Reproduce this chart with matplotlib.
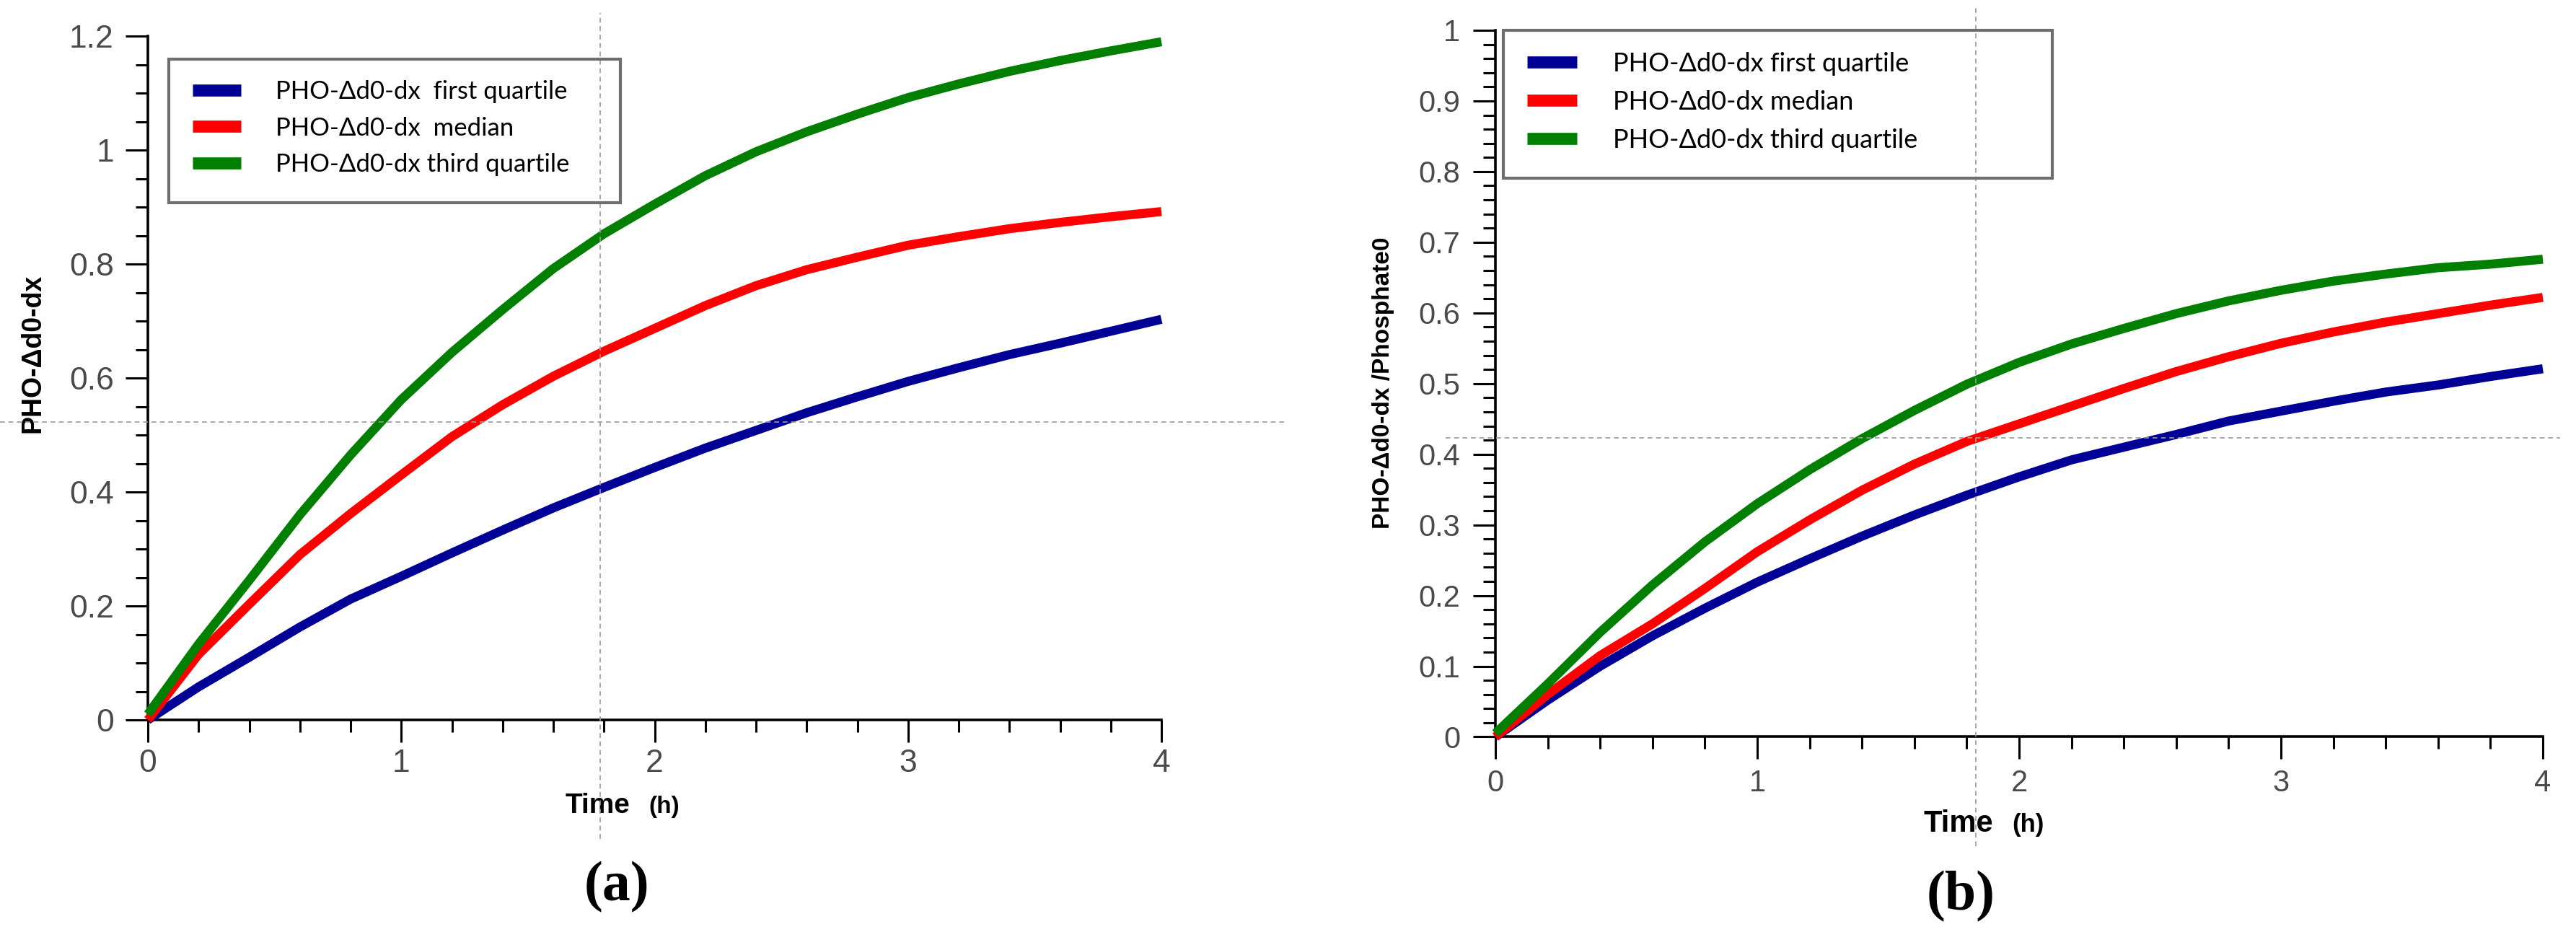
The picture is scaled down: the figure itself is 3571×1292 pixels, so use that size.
import numpy as np
import matplotlib
matplotlib.use("Agg")
import matplotlib.pyplot as plt
from matplotlib.patches import Rectangle
from matplotlib.ticker import MultipleLocator, FuncFormatter

# time points (h)
time_h = [0, 0.2, 0.4, 0.6, 0.8, 1.0, 1.2, 1.4, 1.6, 1.8, 2.0,
          2.2, 2.4, 2.6, 2.8, 3.0, 3.2, 3.4, 3.6, 3.8, 4.0]

# panel (a): PHO-Δd0-dx
a_first = [0, 0.058, 0.11, 0.163, 0.212, 0.252, 0.293, 0.333, 0.372, 0.408, 0.443,
           0.477, 0.508, 0.539, 0.567, 0.594, 0.618, 0.641, 0.661, 0.682, 0.703]
a_median = [0, 0.115, 0.203, 0.29, 0.362, 0.43, 0.497, 0.553, 0.603, 0.647, 0.687,
            0.727, 0.762, 0.79, 0.812, 0.833, 0.848, 0.862, 0.873, 0.883, 0.892]
a_third = [0.01, 0.133, 0.245, 0.36, 0.465, 0.562, 0.645, 0.72, 0.792, 0.853, 0.905,
           0.955, 0.997, 1.032, 1.063, 1.092, 1.116, 1.138, 1.157, 1.174, 1.19]

# panel (b): PHO-Δd0-dx / Phosphate0
b_first = [0, 0.052, 0.1, 0.143, 0.182, 0.219, 0.252, 0.284, 0.314, 0.342, 0.368,
           0.392, 0.41, 0.428, 0.447, 0.461, 0.475, 0.488, 0.498, 0.51, 0.521]
b_median = [0, 0.06, 0.115, 0.16, 0.21, 0.262, 0.307, 0.349, 0.386, 0.418, 0.443,
            0.468, 0.493, 0.517, 0.538, 0.557, 0.573, 0.587, 0.599, 0.611, 0.622]
b_third = [0.005, 0.075, 0.148, 0.215, 0.276, 0.33, 0.378, 0.422, 0.462, 0.499, 0.53,
           0.556, 0.578, 0.599, 0.617, 0.632, 0.645, 0.655, 0.664, 0.669, 0.676]

labels_a = ["PHO-Δd0-dx  first quartile", "PHO-Δd0-dx  median", "PHO-Δd0-dx third quartile"]
labels_b = ["PHO-Δd0-dx first quartile", "PHO-Δd0-dx median", "PHO-Δd0-dx third quartile"]
colors = ["#000096", "#ff0000", "#007f00"]

# cursor crosshair left in the screenshots (data units)
cursor_a = (1.785, 0.523)
cursor_b = (1.835, 0.423)

SANS = ["Liberation Sans", "DejaVu Sans"]
LEG_FONT = ["Lato", "DejaVu Sans"]
TICK_GRAY = "#4a4a4a"

fig = plt.figure(figsize=(35.71, 12.92), dpi=100)
ax_a = fig.add_axes([0.05741, 0.22755, 0.39345, 0.73375])
ax_b = fig.add_axes([0.58051, 0.20937, 0.40661, 0.75813])


def style_axis(ax, ymax, ymajor, yminor, tick_fs, xpad, ypad):
    ax.set_xlim(0, 4)
    ax.set_ylim(0, ymax)
    ax.xaxis.set_major_locator(MultipleLocator(1))
    ax.xaxis.set_minor_locator(MultipleLocator(0.2))
    ax.yaxis.set_major_locator(MultipleLocator(ymajor))
    ax.yaxis.set_minor_locator(MultipleLocator(yminor))
    fmt = FuncFormatter(lambda v, p: "%g" % round(v, 2))
    ax.xaxis.set_major_formatter(fmt)
    ax.yaxis.set_major_formatter(fmt)
    for s in ["top", "right"]:
        ax.spines[s].set_visible(False)
    for s in ["left", "bottom"]:
        ax.spines[s].set_linewidth(2.6)
    ax.tick_params(which="major", direction="out", length=22, width=2.2, color="black")
    ax.tick_params(which="minor", direction="out", length=12.5, width=2.2, color="black")
    ax.tick_params(axis="x", which="major", pad=xpad)
    ax.tick_params(axis="y", which="major", pad=ypad)
    for lab in ax.get_xticklabels() + ax.get_yticklabels():
        lab.set_fontfamily(SANS)
        lab.set_fontsize(tick_fs)
        lab.set_color(TICK_GRAY)


def draw_lines(ax, series, labels):
    for vals, lab, c in zip(series, labels, colors):
        ax.plot(time_h, vals, color=c, lw=9, label=lab, clip_on=False,
                solid_capstyle="butt", solid_joinstyle="round", zorder=3)


# ---------- panel (a)
draw_lines(ax_a, [a_first, a_median, a_third], labels_a)
style_axis(ax_a, 1.2, 0.2, 0.05, 32, 7, 12)
ax_a.set_ylabel("PHO-Δd0-dx", fontsize=27, fontweight="bold", family=SANS, va="center")
ax_a.yaxis.set_label_coords(-0.1135, 0.536)
ax_a.text(0.444, -0.136, "Time", transform=ax_a.transAxes, ha="center", va="baseline",
          fontsize=28, fontweight="bold", family=SANS)
ax_a.text(0.494, -0.136, "(h)", transform=ax_a.transAxes, ha="left", va="baseline",
          fontsize=24, fontweight="bold", family=SANS)

leg_a = ax_a.legend(loc="upper left", bbox_to_anchor=(0.0748, 0.914),
                    bbox_transform=fig.transFigure, frameon=False, borderpad=0,
                    borderaxespad=0, handlelength=1.93, handletextpad=1.38,
                    labelspacing=0.53, prop={"family": LEG_FONT, "size": 25})
fig.add_artist(Rectangle((0.06553, 0.78251), 0.17530, 0.15402, transform=fig.transFigure,
                         fill=False, edgecolor="#6e6e6e", lw=3))

ax_a.axvline(cursor_a[0], ymin=-0.174, ymax=1.034, clip_on=False, color="#9a9a9a",
             lw=1.2, ls=(0, (4, 3)), zorder=5)
ax_a.axhline(cursor_a[1], xmin=-0.146, xmax=1.123, clip_on=False, color="#9a9a9a",
             lw=1.2, ls=(0, (4, 3)), zorder=5)

# ---------- panel (b)
draw_lines(ax_b, [b_first, b_median, b_third], labels_b)
style_axis(ax_b, 1.0, 0.1, 0.02, 30, 10, 13)
ax_b.set_ylabel("PHO-Δd0-dx /Phosphate0", fontsize=24, fontweight="bold", family=SANS,
                va="center")
ax_b.yaxis.set_label_coords(-0.107, 0.501)
ax_b.text(0.442, -0.134, "Time", transform=ax_b.transAxes, ha="center", va="baseline",
          fontsize=30, fontweight="bold", family=SANS)
ax_b.text(0.493, -0.134, "(h)", transform=ax_b.transAxes, ha="left", va="baseline",
          fontsize=25, fontweight="bold", family=SANS)

leg_b = ax_b.legend(loc="upper left", bbox_to_anchor=(0.5928, 0.9443),
                    bbox_transform=fig.transFigure, frameon=False, borderpad=0,
                    borderaxespad=0, handlelength=1.91, handletextpad=1.385,
                    labelspacing=0.55, prop={"family": LEG_FONT, "size": 26})
fig.add_artist(Rectangle((0.58359, 0.80882), 0.21310, 0.15867, transform=fig.transFigure,
                         fill=False, edgecolor="#6e6e6e", lw=3))

ax_b.axvline(cursor_b[0], ymin=-0.155, ymax=1.036, clip_on=False, color="#9a9a9a",
             lw=1.2, ls=(0, (4, 3)), zorder=5)
ax_b.axhline(cursor_b[1], xmin=-0.0475, xmax=1.0165, clip_on=False, color="#9a9a9a",
             lw=1.2, ls=(0, (4, 3)), zorder=5)

for leg in (leg_a, leg_b):
    for h in leg.get_lines():
        h.set_linewidth(12)
        h.set_solid_capstyle("butt")

# panel tags
fig.text(0.2394, 0.0341, "(a)", ha="center", va="baseline", fontsize=56,
         fontweight="bold", family=["Liberation Serif", "DejaVu Serif"])
fig.text(0.7611, 0.0240, "(b)", ha="center", va="baseline", fontsize=56,
         fontweight="bold", family=["Liberation Serif", "DejaVu Serif"])

fig.savefig("out.png", dpi=100, facecolor="white")
